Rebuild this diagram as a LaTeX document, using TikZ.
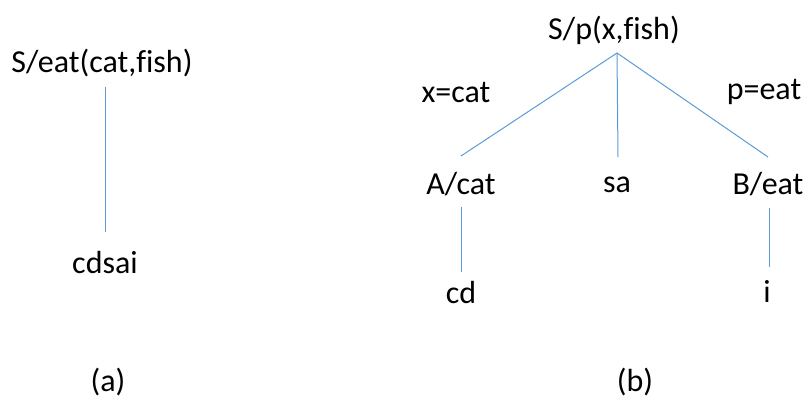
\documentclass[tikz,border=0pt]{standalone}
\usepackage{fontspec}
\setmainfont{Carlito}[Ligatures=NoCommon]
\usetikzlibrary{calc}
\definecolor{edgeblue}{HTML}{5B9BD5}
\begin{document}
\begin{tikzpicture}[x=1pt,y=-1pt,
  lbl/.style={inner sep=0pt,font=\fontsize{32}{38}\selectfont},
  edge/.style={draw=edgeblue,line width=1pt}]
\useasboundingbox (0,0) rectangle (804,399);
% tree (a)
\node[lbl] (seat) at (102,63) {S/eat(cat,fish)};
\node[lbl] (cdsai) at (105,263) {cdsai};
\node[lbl] (capa) at (108,382) {(a)};
% tree (b)
\node[lbl] (sp) at (614,30) {S/p(x,fish)};
\node[lbl] (xcat) at (456,92) {x=cat};
\node[lbl] (peat) at (764,92) {p=eat};
\node[lbl] (acat) at (461,184) {A/cat};
\node[lbl] (sa) at (617,185) {sa};
\node[lbl] (beat) at (768,184) {B/eat};
\node[lbl] (cd) at (461,292) {cd};
\node[lbl] (ii) at (767,291) {i};
\node[lbl] (capb) at (635,382) {(b)};
% connectors
\draw[edge] ($(seat.center)+(3,24)$) -- ($(cdsai.center)+(0,-31)$);
\draw[edge] ($(sp.center)+(3,23)$) -- ($(acat.center)+(0,-28)$);
\draw[edge] ($(sp.center)+(3,23)$) -- ($(sa.center)+(1,-28)$);
\draw[edge] ($(sp.center)+(3,23)$) -- ($(beat.center)+(0,-27)$);
\draw[edge] ($(acat.center)+(0,23)$) -- ($(cd.center)+(0,-20)$);
\draw[edge] ($(beat.center)+(1,24)$) -- ($(ii.center)+(2,-24)$);
\end{tikzpicture}
\end{document}
